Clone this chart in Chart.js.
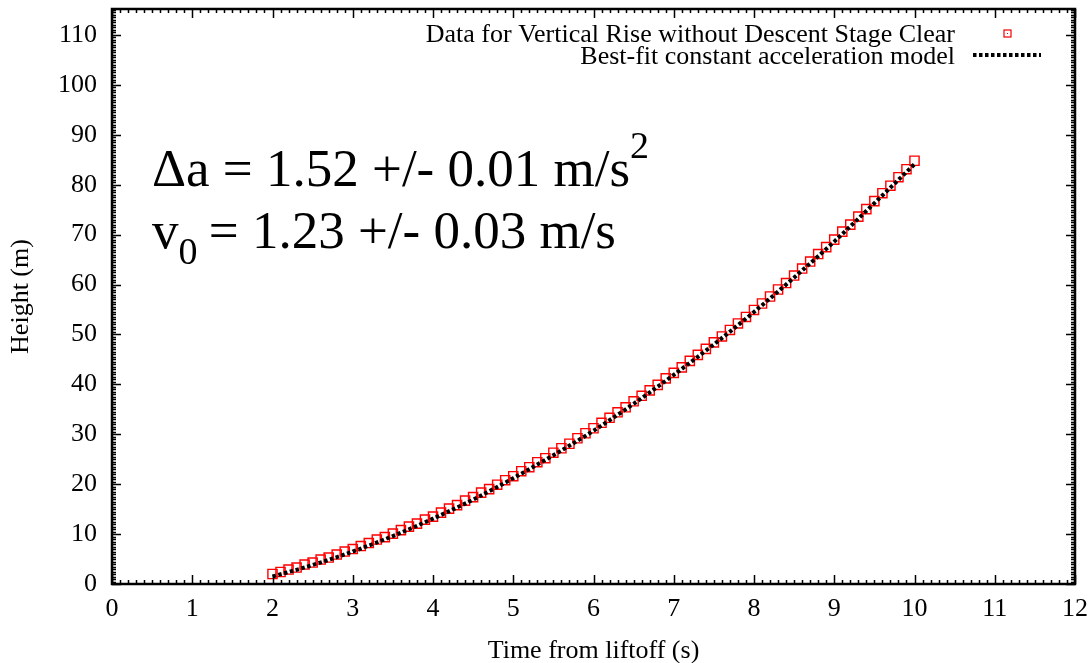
<!DOCTYPE html>
<html>
<head>
<meta charset="utf-8">
<script src="https://cdn.jsdelivr.net/npm/chart.js@4.4.1/dist/chart.umd.min.js"></script>
<style>
  html, body { margin: 0; padding: 0; background: #fff; }
  #wrap { width: 1091px; height: 663px; }
</style>
</head>
<body>
<div id="wrap"><canvas id="grafico"></canvas></div>
<script>
// valores
const times = [2.0, 2.1, 2.2, 2.3, 2.4, 2.5, 2.6, 2.7, 2.8, 2.9,
  3.0, 3.1, 3.2, 3.3, 3.4, 3.5, 3.6, 3.7, 3.8, 3.9,
  4.0, 4.1, 4.2, 4.3, 4.4, 4.5, 4.6, 4.7, 4.8, 4.9,
  5.0, 5.1, 5.2, 5.3, 5.4, 5.5, 5.6, 5.7, 5.8, 5.9,
  6.0, 6.1, 6.2, 6.3, 6.4, 6.5, 6.6, 6.7, 6.8, 6.9,
  7.0, 7.1, 7.2, 7.3, 7.4, 7.5, 7.6, 7.7, 7.8, 7.9,
  8.0, 8.1, 8.2, 8.3, 8.4, 8.5, 8.6, 8.7, 8.8, 8.9,
  9.0, 9.1, 9.2, 9.3, 9.4, 9.5, 9.6, 9.7, 9.8, 9.9, 10.0];
const heights = [2.0, 2.4, 2.9, 3.3, 3.9, 4.3, 4.9, 5.3, 5.9, 6.5,
  7.0, 7.6, 8.2, 8.9, 9.4, 10.1, 10.8, 11.5, 12.1, 12.9,
  13.5, 14.3, 15.1, 15.8, 16.7, 17.4, 18.3, 19.0, 19.9, 20.8,
  21.6, 22.6, 23.4, 24.4, 25.2, 26.3, 27.2, 28.1, 29.2, 30.2,
  31.2, 32.3, 33.3, 34.4, 35.4, 36.6, 37.7, 38.8, 39.9, 41.2,
  42.3, 43.4, 44.7, 45.9, 47.1, 48.4, 49.6, 50.9, 52.2, 53.5,
  54.9, 56.2, 57.6, 59.0, 60.3, 61.8, 63.2, 64.6, 66.1, 67.5,
  69.0, 70.6, 72.0, 73.6, 75.1, 76.7, 78.3, 79.8, 81.5, 83.1, 84.8];

const fitTimes = [2.0, 2.5, 3.0, 3.5, 4.0, 4.5, 5.0, 5.5, 6.0, 6.5, 7.0, 7.5, 8.0, 8.5, 9.0, 9.5, 10.0];
const fitHeights = [1.5, 3.8, 6.5, 9.6, 13.1, 16.9, 21.2, 25.8, 30.7, 36.1, 41.9, 48.0, 54.5, 61.4, 68.6, 76.3, 84.1];

const xTicks = [0, 1, 2, 3, 4, 5, 6, 7, 8, 9, 10, 11, 12];
const yTicks = [0, 10, 20, 30, 40, 50, 60, 70, 80, 90, 100, 110];

const serif = '"Liberation Serif", "Times New Roman", serif';
const fonteEixo = { family: serif, size: 26 };

const pontos = times.map((t, i) => ({ x: t, y: heights[i] }));
const ajuste = fitTimes.map((t, i) => ({ x: t, y: fitHeights[i] }));

// moldura, marcas internas, legenda e anotação
const extras = {
  id: 'extras',
  afterDatasetsDraw(chart) {
    const { ctx, chartArea: a, scales: { x, y } } = chart;
    ctx.save();
    ctx.strokeStyle = '#000';
    ctx.lineWidth = 1.5;
    // marcas menores e maiores
    ctx.beginPath();
    for (let v = 0; v <= 120; v++) {
      const px = Math.round(x.getPixelForValue(v / 10)) + 0.5;
      const len = v % 10 === 0 ? 9 : 4;
      ctx.moveTo(px, a.bottom); ctx.lineTo(px, a.bottom - len);
      ctx.moveTo(px, a.top); ctx.lineTo(px, a.top + len);
    }
    for (let v = 0; v <= 230; v++) {
      const py = Math.round(y.getPixelForValue(v / 2)) + 0.5;
      const len = v % 20 === 0 ? 9 : 4;
      ctx.moveTo(a.left, py); ctx.lineTo(a.left + len, py);
      ctx.moveTo(a.right, py); ctx.lineTo(a.right - len, py);
    }
    ctx.stroke();
    ctx.lineWidth = 2.5;
    ctx.strokeRect(a.left, a.top, a.right - a.left, a.bottom - a.top);

    // legenda
    ctx.fillStyle = '#000';
    ctx.font = '26px ' + serif;
    ctx.textAlign = 'right';
    ctx.textBaseline = 'alphabetic';
    ctx.fillText('Data for Vertical Rise without Descent Stage Clear', 955, 42);
    ctx.fillText('Best-fit constant acceleration model', 955, 64);
    ctx.strokeStyle = '#e00';
    ctx.lineWidth = 1.2;
    ctx.strokeRect(1004, 30, 7, 7);
    ctx.fillStyle = '#e00';
    ctx.fillRect(1007, 33, 1, 1);
    ctx.strokeStyle = '#000';
    ctx.lineWidth = 4;
    ctx.setLineDash([3.5, 2.5]);
    ctx.beginPath(); ctx.moveTo(973, 55); ctx.lineTo(1041, 55); ctx.stroke();
    ctx.setLineDash([]);

    // anotação
    ctx.fillStyle = '#000';
    ctx.textAlign = 'left';
    const grande = '53px ' + serif, pequeno = '38px ' + serif;
    ctx.font = grande;
    const l1 = 'Δa = 1.52 +/- 0.01 m/s';
    ctx.fillText(l1, 152, 186);
    const w1 = ctx.measureText(l1).width;
    ctx.font = pequeno;
    ctx.fillText('2', 152 + w1, 158);
    ctx.font = grande;
    ctx.fillText('v', 152, 248);
    const wv = ctx.measureText('v').width;
    ctx.font = pequeno;
    ctx.fillText('0', 152 + wv, 264);
    const w0 = ctx.measureText('0').width;
    ctx.font = grande;
    ctx.fillText(' = 1.23 +/- 0.03 m/s', 152 + wv + w0 - 2, 248);
    ctx.restore();
  }
};

const config = {
  type: 'scatter',
  data: {
    datasets: [{
      label: 'Best-fit constant acceleration model',
      data: ajuste,
      showLine: true,
      borderColor: '#000',
      borderWidth: 4,
      borderDash: [3.5, 2.5],
      pointRadius: 0,
      tension: 0.4,
      cubicInterpolationMode: 'monotone',
      order: 0
    }, {
      label: 'Data for Vertical Rise without Descent Stage Clear',
      data: pontos,
      pointStyle: 'rect',
      pointRadius: 6.5,
      pointBorderWidth: 1.4,
      borderColor: '#ff0000',
      backgroundColor: 'rgba(0,0,0,0)',
      order: 1
    }]
  },
  options: {
    responsive: true,
    maintainAspectRatio: false,
    animation: false,
    layout: { padding: { top: 9, right: 16, left: 0, bottom: -4 } },
    plugins: { legend: { display: false }, tooltip: { enabled: false } },
    scales: {
      x: {
        type: 'linear', min: 0, max: 12,
        afterBuildTicks: s => { s.ticks = xTicks.map(v => ({ value: v })); },
        afterFit: s => { s.height = 83; s.paddingLeft = 0; s.paddingRight = 0; },
        grid: { display: false, drawTicks: false },
        border: { display: false },
        ticks: { font: fonteEixo, color: '#000', padding: 10, maxRotation: 0 },
        title: { display: true, text: 'Time from liftoff (s)', font: fonteEixo, color: '#000', padding: { top: 6, bottom: 0 } }
      },
      y: {
        type: 'linear', min: 0, max: 115.2,
        afterBuildTicks: s => { s.ticks = yTicks.map(v => ({ value: v })); },
        afterFit: s => { s.width = 112; s.paddingTop = 0; s.paddingBottom = 0; },
        grid: { display: false, drawTicks: false },
        border: { display: false },
        ticks: { font: fonteEixo, color: '#000', padding: 15 },
        title: { display: true, text: 'Height (m)', font: fonteEixo, color: '#000', padding: { top: 6, bottom: 4 } }
      }
    }
  },
  plugins: [extras]
};

const grafico = new Chart(document.getElementById('grafico').getContext('2d'), config);
</script>
</body>
</html>
